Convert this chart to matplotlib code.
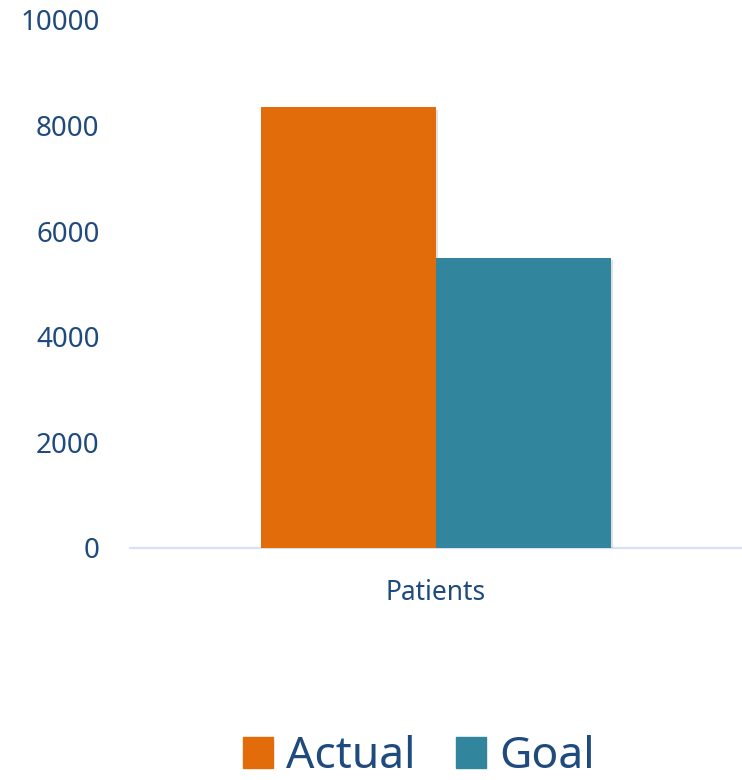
import matplotlib
matplotlib.use('Agg')
import matplotlib.pyplot as plt
import matplotlib.patheffects as pe
from matplotlib.patches import Patch
import numpy as np

# chart data
categories = ['Patients']
series_names = ['Actual', 'Goal']
actual = [8350]
goal = [5500]
y_ticks = [0, 2000, 4000, 6000, 8000, 10000]

colors = ['#E36C0A', '#31859C']
text_color = '#1F4A7E'

plt.rcParams['font.family'] = ['Noto Sans', 'DejaVu Sans']

fig = plt.figure(figsize=(7.42, 7.80), dpi=100)
ax = fig.add_axes([130 / 742, 1 - 548 / 780, 612 / 742, 528 / 780])

x = np.arange(len(categories))
w = 0.286
shadow = [pe.SimplePatchShadow(offset=(1.5, -2), shadow_rgbFace='#888888', alpha=0.25), pe.Normal()]
ax.bar(x - w / 2, actual, w, color=colors[0], path_effects=shadow, zorder=3)
ax.bar(x + w / 2, goal, w, color=colors[1], path_effects=shadow, zorder=4)

ax.set_xlim(-0.5, 0.5)
ax.set_ylim(0, 10000)
ax.set_yticks(y_ticks)
ax.set_xticks(x)
ax.set_xticklabels(categories)

for s in ['top', 'right', 'left']:
    ax.spines[s].set_visible(False)
ax.spines['bottom'].set_color('#D6E2F1')
ax.spines['bottom'].set_linewidth(1.6)
ax.spines['bottom'].set_zorder(2)

ax.tick_params(axis='y', length=0, pad=22, labelsize=20, labelcolor=text_color)
ax.tick_params(axis='x', length=0, pad=22, labelsize=19, labelcolor=text_color)

handles = [Patch(color=c) for c in colors]
fig.legend(handles, series_names, loc='center', bbox_to_anchor=(419 / 742, 1 - 757 / 780),
           ncol=2, frameon=False, fontsize=32, labelcolor=text_color,
           handlelength=0.67, handleheight=0.67, handletextpad=0.3, columnspacing=0.9,
           borderpad=0, borderaxespad=0)

fig.savefig('out.png', dpi=100)
